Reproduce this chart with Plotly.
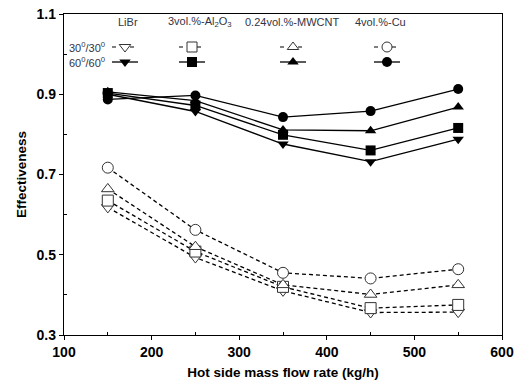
import plotly.graph_objects as go

flow = [150, 250, 350, 450, 550]

# 60/60 (solid, filled markers)
libr_60 = [0.900, 0.857, 0.776, 0.732, 0.788]
al2o3_60 = [0.903, 0.872, 0.799, 0.760, 0.816]
mwcnt_60 = [0.906, 0.884, 0.811, 0.809, 0.868]
cu_60 = [0.887, 0.897, 0.843, 0.858, 0.913]

# 30/30 (dashed, open markers)
libr_30 = [0.618, 0.493, 0.410, 0.356, 0.357]
al2o3_30 = [0.635, 0.508, 0.420, 0.367, 0.375]
mwcnt_30 = [0.664, 0.520, 0.425, 0.401, 0.425]
cu_30 = [0.717, 0.562, 0.455, 0.441, 0.464]

series_names = ["LiBr", "3vol.%-Al<sub>2</sub>O<sub>3</sub>", "0.24vol.%-MWCNT", "4vol.%-Cu"]
row_names = ["30<sup>0</sup>/30<sup>0</sup>", "60<sup>0</sup>/60<sup>0</sup>"]
symbols = ["triangle-down", "square", "triangle-up", "circle"]

FONT = "Liberation Sans, Arial, sans-serif"

fig = go.Figure()

data60 = [libr_60, al2o3_60, mwcnt_60, cu_60]
data30 = [libr_30, al2o3_30, mwcnt_30, cu_30]

for vals, sym in zip(data30, symbols):
    fig.add_trace(go.Scatter(
        x=flow, y=vals, mode="lines+markers",
        line=dict(color="black", width=1.3, dash="4px,3px"),
        marker=dict(symbol=sym, size=11, color="white", line=dict(width=1, color="#333333")),
        showlegend=False, cliponaxis=False))

for vals, sym in zip(data60, symbols):
    fig.add_trace(go.Scatter(
        x=flow, y=vals, mode="lines+markers",
        line=dict(color="black", width=1.3),
        marker=dict(symbol=sym, size=10, color="black"),
        showlegend=False, cliponaxis=False))

# Legend samples on pixel-coordinate overlay axis
leg_x = [125, 192, 293, 387]
row_y = [47, 62]
for lx, sym in zip(leg_x, symbols):
    fig.add_trace(go.Scatter(x=[lx - 13, lx + 13], y=[row_y[0], row_y[0]], mode="lines",
                             line=dict(color="black", width=1.2, dash="4px,5px"),
                             xaxis="x2", yaxis="y2", showlegend=False, hoverinfo="skip"))
    fig.add_trace(go.Scatter(x=[lx], y=[row_y[0]], mode="markers",
                             marker=dict(symbol=sym, size=10, color="white",
                                         line=dict(width=1, color="#333333")),
                             xaxis="x2", yaxis="y2", showlegend=False, hoverinfo="skip"))
    fig.add_trace(go.Scatter(x=[lx - 13, lx + 13], y=[row_y[1], row_y[1]], mode="lines",
                             line=dict(color="black", width=1.3),
                             xaxis="x2", yaxis="y2", showlegend=False, hoverinfo="skip"))
    fig.add_trace(go.Scatter(x=[lx], y=[row_y[1]], mode="markers",
                             marker=dict(symbol=sym, size=10, color="black"),
                             xaxis="x2", yaxis="y2", showlegend=False, hoverinfo="skip"))

header_x = [128, 200, 292, 380]
annotations = []
for hx, name in zip(header_x, series_names):
    annotations.append(dict(x=hx, y=22, xref="x2", yref="y2", text=name, showarrow=False,
                            font=dict(size=11, color="#333344", family=FONT),
                            xanchor="center", yanchor="middle"))
for ry, name in zip(row_y, row_names):
    annotations.append(dict(x=107, y=ry, xref="x2", yref="y2", text=name, showarrow=False,
                            font=dict(size=11, color="#333344", family=FONT),
                            xanchor="right", yanchor="middle"))

fig.update_layout(
    width=519, height=387,
    margin=dict(l=64, r=17, t=14, b=52, autoexpand=False),
    plot_bgcolor="white", paper_bgcolor="white",
    font=dict(family=FONT, color="black"),
    annotations=annotations,
    xaxis=dict(range=[100, 600], tickvals=[100, 200, 300, 400, 500, 600], automargin=False,
               showgrid=False, zeroline=False, showline=True, linecolor="black", linewidth=1.3,
               mirror=True, ticks="outside", ticklen=4, tickwidth=1, tickcolor="black",
               minor=dict(tickvals=[150, 250, 350, 450, 550], ticks="inside", ticklen=3, tickcolor="black"),
               tickfont=dict(size=14, family=FONT, weight="bold"),
               title=dict(text="<b>Hot side mass flow rate (kg/h)</b>", font=dict(size=13.5), standoff=8)),
    yaxis=dict(range=[0.3, 1.1], tickvals=[0.3, 0.5, 0.7, 0.9, 1.1], automargin=False,
               showgrid=False, zeroline=False, showline=True, linecolor="black", linewidth=1.3,
               mirror=True, ticks="outside", ticklen=4, tickwidth=1, tickcolor="black",
               minor=dict(tickvals=[0.4, 0.6, 0.8, 1.0], ticks="inside", ticklen=3, tickcolor="black"),
               tickfont=dict(size=14, family=FONT, weight="bold"),
               title=dict(text="<b>Effectiveness</b>", font=dict(size=13.5), standoff=6)),
    xaxis2=dict(overlaying="x", range=[64, 502], visible=False, fixedrange=True),
    yaxis2=dict(overlaying="y", range=[335, 14], visible=False, fixedrange=True),
)

fig.write_html("out.html", config={"displayModeBar": False},
               post_script="document.body.style.margin='0';document.body.style.overflow='hidden';")
